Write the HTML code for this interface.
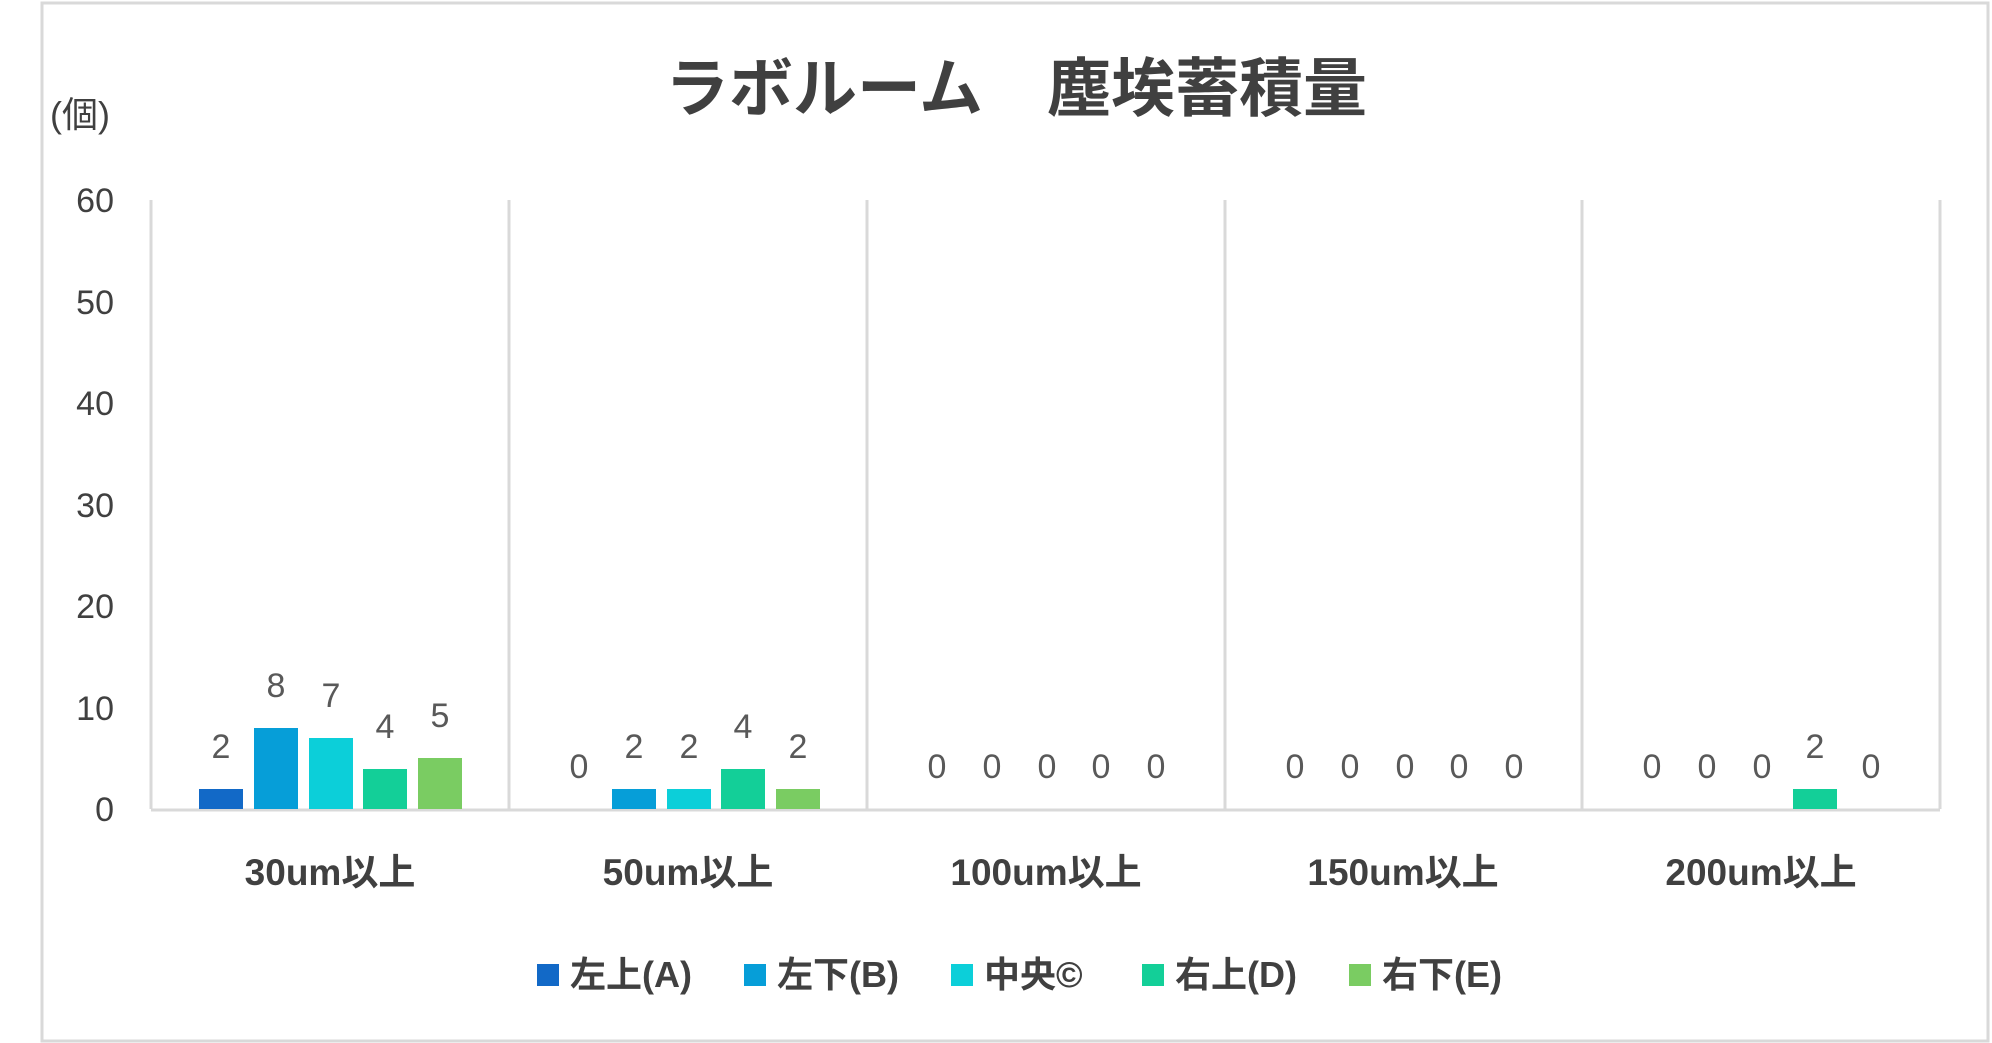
<!DOCTYPE html>
<html><head><meta charset="utf-8"><style>
html,body{margin:0;padding:0;background:#fff;}
svg{display:block;}
text{font-family:"Liberation Sans","Noto Sans CJK JP",sans-serif;}
</style></head><body>
<svg width="1992" height="1043" viewBox="0 0 1992 1043" xmlns="http://www.w3.org/2000/svg">
<rect x="0" y="0" width="1992" height="1043" fill="#fff"/>
<rect x="42" y="3" width="1946" height="1038" fill="#fff" stroke="#d9d9d9" stroke-width="3"/>
<text x="1016" y="111" text-anchor="middle" font-size="64" font-weight="bold" fill="#404040">ラボルーム　塵埃蓄積量</text>
<text x="50" y="127" font-size="36" fill="#404040">(個)</text>
<g stroke="#d9d9d9" stroke-width="3">
<line x1="151" y1="200" x2="151" y2="809"/>
<line x1="509" y1="200" x2="509" y2="809"/>
<line x1="867" y1="200" x2="867" y2="809"/>
<line x1="1225" y1="200" x2="1225" y2="809"/>
<line x1="1582" y1="200" x2="1582" y2="809"/>
<line x1="1940" y1="200" x2="1940" y2="809"/>
<line x1="151" y1="810" x2="1940" y2="810"/>
</g>
<g font-size="34" fill="#404040" text-anchor="end">
<text x="114" y="212">60</text>
<text x="114" y="314">50</text>
<text x="114" y="415">40</text>
<text x="114" y="517">30</text>
<text x="114" y="618">20</text>
<text x="114" y="720">10</text>
<text x="114" y="821">0</text>
</g>
<g>
<rect x="199" y="789" width="44" height="20" fill="#1269C7"/>
<rect x="254" y="728" width="44" height="81" fill="#069ED8"/>
<rect x="309" y="738" width="44" height="71" fill="#0CCFD9"/>
<rect x="363" y="769" width="44" height="40" fill="#13CF98"/>
<rect x="418" y="758" width="44" height="51" fill="#7ACC62"/>
<rect x="612" y="789" width="44" height="20" fill="#069ED8"/>
<rect x="667" y="789" width="44" height="20" fill="#0CCFD9"/>
<rect x="721" y="769" width="44" height="40" fill="#13CF98"/>
<rect x="776" y="789" width="44" height="20" fill="#7ACC62"/>
<rect x="1793" y="789" width="44" height="20" fill="#13CF98"/>
</g>
<g font-size="34" fill="#595959" text-anchor="middle">
<text x="221" y="758">2</text><text x="276" y="697">8</text><text x="331" y="707">7</text><text x="385" y="738">4</text><text x="440" y="727">5</text>
<text x="579" y="778">0</text><text x="634" y="758">2</text><text x="689" y="758">2</text><text x="743" y="738">4</text><text x="798" y="758">2</text>
<text x="937" y="778">0</text><text x="992" y="778">0</text><text x="1047" y="778">0</text><text x="1101" y="778">0</text><text x="1156" y="778">0</text>
<text x="1295" y="778">0</text><text x="1350" y="778">0</text><text x="1405" y="778">0</text><text x="1459" y="778">0</text><text x="1514" y="778">0</text>
<text x="1652" y="778">0</text><text x="1707" y="778">0</text><text x="1762" y="778">0</text><text x="1815" y="758">2</text><text x="1871" y="778">0</text>
</g>
<g font-size="37" font-weight="bold" fill="#404040" text-anchor="middle">
<text x="330" y="885">30um以上</text>
<text x="688" y="885">50um以上</text>
<text x="1046" y="885">100um以上</text>
<text x="1403" y="885">150um以上</text>
<text x="1761" y="885">200um以上</text>
</g>
<g font-size="36" font-weight="bold" fill="#404040">
<rect x="537" y="964" width="22" height="22" fill="#1269C7"/><text x="570" y="987">左上(A)</text>
<rect x="744" y="964" width="22" height="22" fill="#069ED8"/><text x="777" y="987">左下(B)</text>
<rect x="951" y="964" width="22" height="22" fill="#0CCFD9"/><text x="984" y="987">中央©</text>
<rect x="1142" y="964" width="22" height="22" fill="#13CF98"/><text x="1175" y="987">右上(D)</text>
<rect x="1349" y="964" width="22" height="22" fill="#7ACC62"/><text x="1382" y="987">右下(E)</text>
</g>
</svg>
</body></html>
